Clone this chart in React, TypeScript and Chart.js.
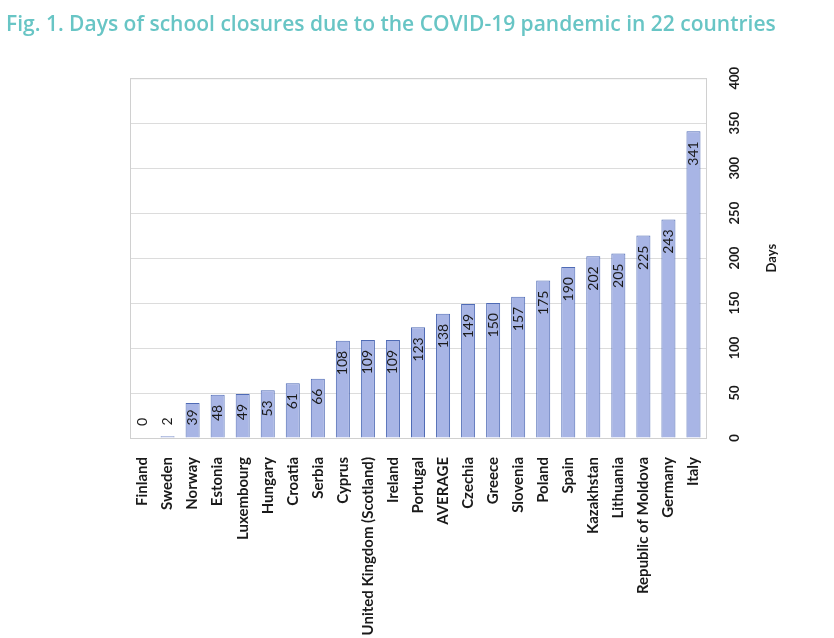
import React, { useEffect, useRef } from "react";
import { Chart, registerables } from "chart.js";

Chart.register(...registerables);

const TITLE = "Fig. 1. Days of school closures due to the COVID-19 pandemic in 22 countries";
const CATEGORIES = [
  "Finland", "Sweden", "Norway", "Estonia", "Luxembourg", "Hungary", "Croatia", "Serbia",
  "Cyprus", "United Kingdom (Scotland)", "Ireland", "Portugal", "AVERAGE", "Czechia", "Greece",
  "Slovenia", "Poland", "Spain", "Kazakhstan", "Lithuania", "Republic of Moldova", "Germany", "Italy",
];
const DAYS = [0, 2, 39, 48, 49, 53, 61, 66, 108, 109, 109, 123, 138, 149, 150, 157, 175, 190, 202, 205, 225, 243, 341];
const Y_TICKS = [0, 50, 100, 150, 200, 250, 300, 350, 400];
const Y_TITLE = "Days";

const LABEL_FONT = "14px Lato, 'Liberation Sans', sans-serif";
const TICK_FONT = "bold 13px Lato, 'Liberation Sans', sans-serif";

const decorPlugin = {
  id: "decor",
  beforeDatasetsDraw(chart: any) {
    const { ctx, chartArea } = chart;
    ctx.save();
    ctx.strokeStyle = "#d0d0d0";
    ctx.lineWidth = 1;
    ctx.strokeRect(chartArea.left + 0.5, chartArea.top + 0.5, chartArea.right - chartArea.left, chartArea.bottom - chartArea.top);
    ctx.restore();
  },
  afterDatasetsDraw(chart: any) {
    const { ctx, chartArea } = chart;
    const meta = chart.getDatasetMeta(0);
    const data = chart.data.datasets[0].data as number[];
    ctx.save();
    ctx.font = LABEL_FONT;
    ctx.fillStyle = "#1a1a1a";
    ctx.textAlign = "right";
    ctx.textBaseline = "middle";
    meta.data.forEach((bar: any, i: number) => {
      const txt = String(data[i]);
      const len = ctx.measureText(txt).width;
      let top = bar.y + 10;
      if (top + len > bar.base - 12) top = bar.base - 12 - len;
      ctx.save();
      ctx.translate(bar.x, top);
      ctx.rotate(-Math.PI / 2);
      ctx.fillText(txt, 0, 0);
      ctx.restore();
    });
    const y = chart.scales.y;
    ctx.font = TICK_FONT;
    ctx.textAlign = "center";
    Y_TICKS.forEach((v) => {
      const py = y.getPixelForValue(v);
      ctx.save();
      ctx.translate(chartArea.right + 29, py);
      ctx.rotate(-Math.PI / 2);
      ctx.fillText(String(v), 0, 0);
      ctx.restore();
    });
    ctx.save();
    ctx.translate(chartArea.right + 66, (chartArea.top + chartArea.bottom) / 2);
    ctx.rotate(-Math.PI / 2);
    ctx.fillText(Y_TITLE, 0, 0);
    ctx.restore();
    ctx.restore();
  },
};

export default function App() {
  const ref = useRef<HTMLCanvasElement>(null);
  useEffect(() => {
    if (!ref.current) return;
    const chart = new Chart(ref.current, {
      type: "bar",
      data: {
        labels: CATEGORIES,
        datasets: [
          {
            data: DAYS,
            backgroundColor: "#a8b5e5",
            borderColor: "#4f6bb5",
            borderWidth: 1,
            barPercentage: 0.56,
            categoryPercentage: 1,
          },
        ],
      },
      options: {
        animation: false,
        responsive: false,
        maintainAspectRatio: false,
        layout: { padding: { left: 6, right: 0, top: 0, bottom: 0 } },
        plugins: {
          legend: { display: false },
          tooltip: { enabled: false },
          title: {
            display: true,
            text: TITLE,
            align: "start",
            color: "#68c5c5",
            font: { family: "'Open Sans', sans-serif", size: 21, weight: "600" as any },
            padding: { top: 12, bottom: 41 },
          },
        },
        scales: {
          x: {
            grid: { display: false, drawTicks: false },
            border: { color: "#d0d0d0" },
            ticks: {
              minRotation: 90,
              maxRotation: 90,
              autoSkip: false,
              padding: 19,
              color: "#1a1a1a",
              font: { family: "Lato, 'Liberation Sans', sans-serif", size: 15, weight: "bold" as any },
            },
            afterFit: (s: any) => { s.height = 200; },
          },
          y: {
            position: "right",
            min: 0,
            max: 400,
            grid: { color: "#dcdcdc", drawTicks: false },
            border: { color: "#d0d0d0" },
            ticks: { display: false, stepSize: 50 },
            afterFit: (s: any) => { s.width = 128; },
          },
          spacer: {
            type: "linear",
            position: "left",
            display: true,
            grid: { display: false },
            border: { display: false },
            ticks: { display: false },
            afterFit: (s: any) => { s.width = 124; },
          },
        },
      },
      plugins: [decorPlugin],
    });
    return () => chart.destroy();
  }, []);
  return (
    <div style={{ position: "fixed", left: 0, top: 0, width: 834, height: 638, background: "#fff" }}>
      <canvas ref={ref} width={834} height={638} style={{ width: 834, height: 638 }} />
    </div>
  );
}
